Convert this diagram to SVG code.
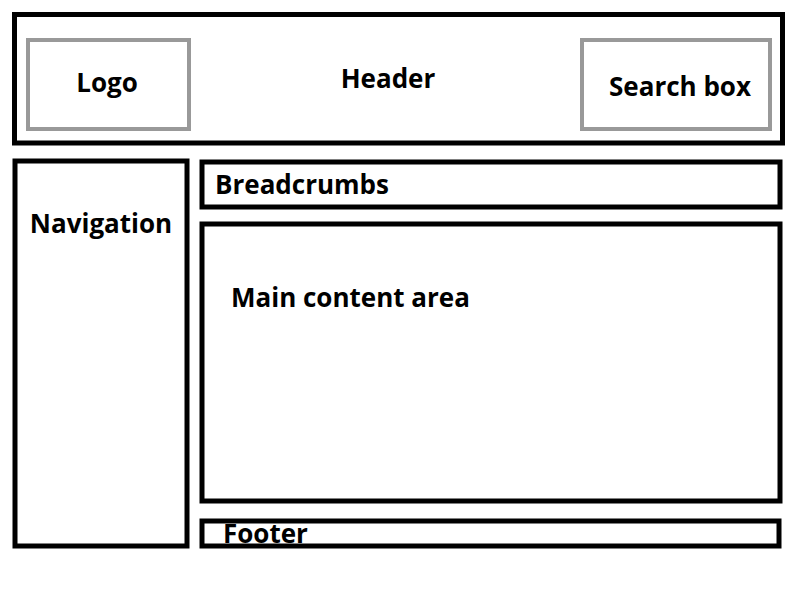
<svg xmlns="http://www.w3.org/2000/svg" width="800" height="600" viewBox="0 0 800 600">
<style>
.b{fill:#fff;stroke:#000;stroke-width:5}
.g{fill:#fff;stroke:#999;stroke-width:4}
text{font-family:"Open Sans","DejaVu Sans",sans-serif;font-weight:bold;font-size:26px;fill:#000}
</style>
<g id="header"><rect class="b" x="14.5" y="14.5" width="768" height="128.5"/><text x="388" y="88" text-anchor="middle" font-size="31">Header</text></g>
<g id="logo"><rect class="g" x="28" y="40" width="161" height="89"/><text x="107" y="92" text-anchor="middle">Logo</text></g>
<g id="search"><rect class="g" x="582" y="40" width="188" height="89"/><text x="680" y="96" text-anchor="middle">Search box</text></g>
<g id="nav"><rect class="b" x="15" y="161" width="172" height="385"/><text x="101" y="233" text-anchor="middle">Navigation</text></g>
<g id="breadcrumbs"><rect class="b" x="202" y="162" width="578" height="45"/><text x="215" y="194">Breadcrumbs</text></g>
<g id="main"><rect class="b" x="202" y="224" width="578" height="277"/><text x="231" y="307">Main content area</text></g>
<g id="footer"><rect class="b" x="202" y="521" width="577" height="25"/><text x="223" y="543">Footer</text></g>
<g id="connectors"/>
</svg>
